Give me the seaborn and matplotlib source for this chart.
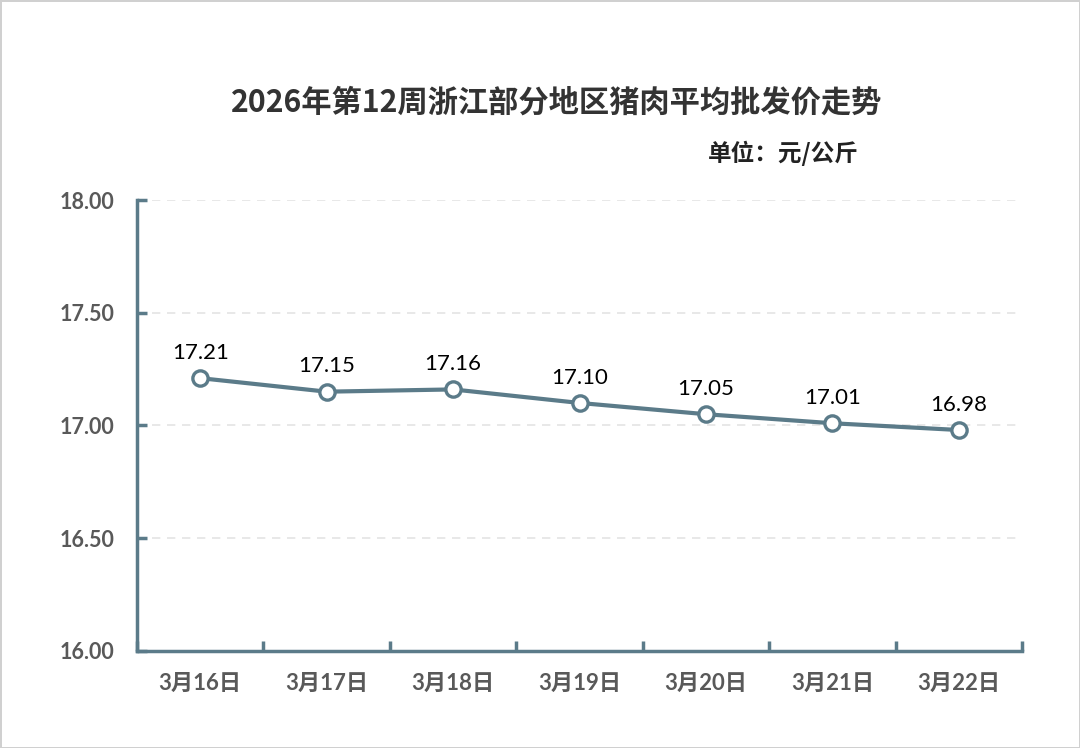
# 2026年第12周浙江部分地区猪肉平均批发价走势
import numpy as np
import pandas as pd
import matplotlib
matplotlib.use('Agg')
import matplotlib.pyplot as plt
import seaborn as sns

# Datos
fechas = ['3月16日', '3月17日', '3月18日', '3月19日', '3月20日', '3月21日', '3月22日']
precios = [17.21, 17.15, 17.16, 17.10, 17.05, 17.01, 16.98]
y_ticks = [16.00, 16.50, 17.00, 17.50, 18.00]

titulo = '2026年第12周浙江部分地区猪肉平均批发价走势'
unidad = '单位：元/公斤'

df = pd.DataFrame({'pos': np.arange(len(fechas)), 'precio': precios})

sns.set_theme(style='white')
plt.rcParams['font.family'] = ['Lato', 'Noto Sans CJK SC', 'DejaVu Sans']

color_linea = '#5b7b89'
color_texto = '#595959'

fig = plt.figure(figsize=(10.8, 7.48), dpi=100)
fig.patch.set_edgecolor('#d0d0d0')
fig.patch.set_linewidth(2)
ax = fig.add_axes([0.1269, 0.1297, 0.8194, 0.6029])

# Línea con marcadores huecos
sns.lineplot(data=df, x='pos', y='precio', ax=ax, color=color_linea,
             linewidth=3, marker='o', markersize=11,
             markerfacecolor='white', markeredgecolor=color_linea,
             markeredgewidth=2.4)

# Etiquetas de los valores
for x, v in zip(df.pos, df.precio):
    ax.annotate(f'{v:.2f}', (x, v), xytext=(0, 11), textcoords='offset points',
                ha='center', va='bottom', fontsize=16, color='black',
                family=['Lato', 'DejaVu Sans'])

# Ejes
ax.set_xlim(-0.5, len(fechas) - 0.5)
ax.set_ylim(y_ticks[0], y_ticks[-1])
ax.set_yticks(y_ticks)
ax.set_yticklabels([f'{t:.2f}' for t in y_ticks], fontsize=15.5,
                   fontweight='bold', color=color_texto)
ax.set_xticks(np.arange(-0.5, len(fechas), 1.0))
ax.set_xticklabels([])
ax.set_xticks(np.arange(len(fechas)), minor=True)
ax.set_xticklabels(fechas, minor=True, fontsize=16, fontweight='bold',
                   color=color_texto)
ax.tick_params(axis='x', which='major', bottom=True, direction='in', length=7,
               width=2.5, color=color_linea)
ax.tick_params(axis='x', which='minor', bottom=True, length=0, pad=16)
ax.tick_params(axis='y', left=True, direction='in', length=7, width=2.5,
               color=color_linea, pad=16)
ax.set_xlabel('')
ax.set_ylabel('')

# Rejilla y bordes
for y in y_ticks[1:]:
    ax.axhline(y, color='#e4e4e4', linewidth=1.2, linestyle=(0, (5, 4)), zorder=0)
sns.despine(ax=ax, top=True, right=True)
for s in ['left', 'bottom']:
    ax.spines[s].set_color(color_linea)
    ax.spines[s].set_linewidth(2.5)

# Títulos
fig.text(0.515, 0.863, titulo, ha='center', va='center', fontsize=21.8,
         fontweight='bold', color='#333333', family=['Noto Sans CJK SC'])
fig.text(0.655, 0.795, unidad, ha='left', va='center', fontsize=17,
         fontweight='bold', color='#222222', family=['Noto Sans CJK SC'])

plt.savefig('out.png', dpi=100)
